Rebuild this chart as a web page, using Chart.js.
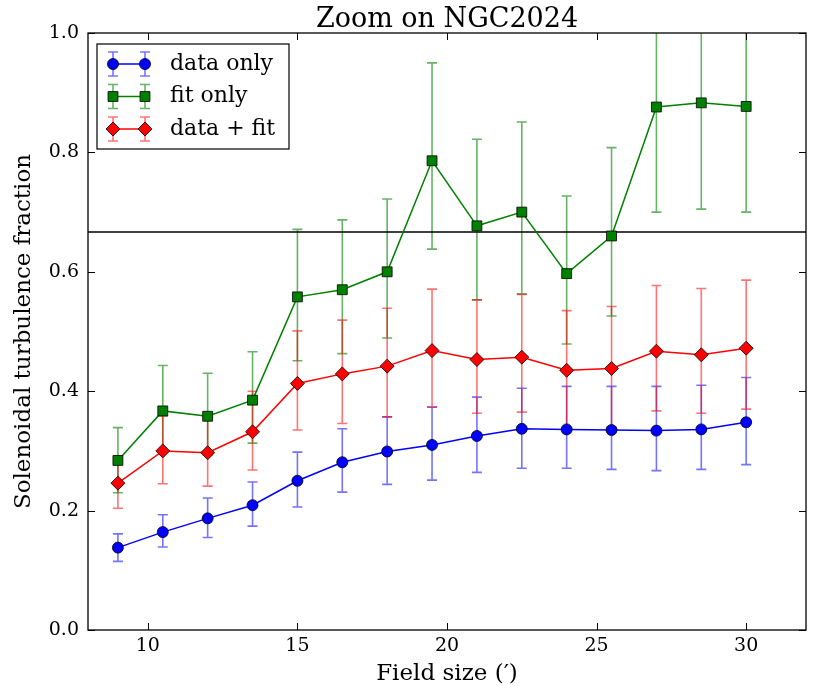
<!DOCTYPE html>
<html lang="en">
<head>
<meta charset="UTF-8">
<title>Zoom on NGC2024</title>
<script src="https://cdn.jsdelivr.net/npm/chart.js"></script>
<style>
  html, body { margin: 0; padding: 0; background: #fff; }
  #wrap { width: 830px; height: 686px; }
</style>
</head>
<body>
<div id="wrap"><canvas id="chart" width="830" height="686"></canvas></div>
<script>
// field sizes (arcmin)
const fieldSize = [9, 10.5, 12, 13.5, 15, 16.5, 18, 19.5, 21, 22.5, 24, 25.5, 27, 28.5, 30];

// data only
const dataOnly     = [0.138, 0.164, 0.187, 0.209, 0.250, 0.281, 0.299, 0.310, 0.325, 0.337, 0.336, 0.335, 0.334, 0.336, 0.348];
const dataOnlyLow  = [0.115, 0.139, 0.155, 0.174, 0.206, 0.231, 0.244, 0.251, 0.264, 0.271, 0.271, 0.269, 0.267, 0.269, 0.277];
const dataOnlyHigh = [0.161, 0.193, 0.221, 0.248, 0.298, 0.337, 0.357, 0.373, 0.390, 0.405, 0.408, 0.408, 0.408, 0.410, 0.423];

// fit only
const fitOnly     = [0.284, 0.367, 0.358, 0.385, 0.558, 0.570, 0.600, 0.786, 0.677, 0.700, 0.597, 0.660, 0.876, 0.883, 0.877];
const fitOnlyLow  = [0.230, 0.300, 0.293, 0.313, 0.451, 0.463, 0.489, 0.638, 0.553, 0.563, 0.479, 0.526, 0.700, 0.705, 0.700];
const fitOnlyHigh = [0.339, 0.443, 0.430, 0.466, 0.671, 0.687, 0.722, 0.950, 0.822, 0.851, 0.727, 0.808, 1.050, 1.060, 1.050];

// data + fit
const dataFit     = [0.246, 0.300, 0.297, 0.332, 0.413, 0.429, 0.442, 0.468, 0.453, 0.457, 0.435, 0.438, 0.467, 0.461, 0.472];
const dataFitLow  = [0.204, 0.245, 0.241, 0.268, 0.335, 0.346, 0.357, 0.374, 0.363, 0.365, 0.338, 0.340, 0.367, 0.363, 0.370];
const dataFitHigh = [0.290, 0.358, 0.355, 0.400, 0.501, 0.519, 0.539, 0.571, 0.553, 0.562, 0.535, 0.542, 0.577, 0.572, 0.586];

const refLevel = 2 / 3;
const xTicks = [10, 15, 20, 25, 30];
const yTicks = [0, 0.2, 0.4, 0.6, 0.8, 1.0];
const xRange = [8, 32];
const yRange = [0, 1];

const SERIF = '"DejaVu Serif", "Liberation Serif", serif';

const series = [
    { label: 'data only',  y: dataOnly, lo: dataOnlyLow, hi: dataOnlyHigh, color: '#0000ff', err: 'rgba(0,0,255,0.55)', marker: 'circle',  radius: 5.5 },
    { label: 'fit only',   y: fitOnly,  lo: fitOnlyLow,  hi: fitOnlyHigh,  color: '#008000', err: 'rgba(0,128,0,0.6)',  marker: 'rect',    radius: 7 },
    { label: 'data + fit', y: dataFit,  lo: dataFitLow,  hi: dataFitHigh,  color: '#ff0000', err: 'rgba(255,0,0,0.55)', marker: 'rectRot', radius: 7 }
];

function toPoints(ys) {
    return fieldSize.map((x, i) => ({ x: x, y: ys[i] }));
}

// error bars go under the lines and markers
const errorBars = {
    id: 'errorBars',
    beforeDatasetsDraw(chart) {
        const { ctx, chartArea, scales } = chart;
        ctx.save();
        ctx.beginPath();
        ctx.rect(chartArea.left, chartArea.top, chartArea.right - chartArea.left, chartArea.bottom - chartArea.top);
        ctx.clip();
        series.forEach(s => {
            ctx.strokeStyle = s.err;
            ctx.lineWidth = 1.6;
            fieldSize.forEach((x, i) => {
                const px = scales.x.getPixelForValue(x);
                const top = scales.y.getPixelForValue(s.hi[i]);
                const bot = scales.y.getPixelForValue(s.lo[i]);
                ctx.beginPath();
                ctx.moveTo(px, top); ctx.lineTo(px, bot);
                ctx.moveTo(px - 5, top); ctx.lineTo(px + 5, top);
                ctx.moveTo(px - 5, bot); ctx.lineTo(px + 5, bot);
                ctx.stroke();
            });
        });
        ctx.restore();
    }
};

function drawMarker(ctx, type, x, y, r, fill) {
    ctx.save();
    ctx.fillStyle = fill;
    ctx.strokeStyle = '#000';
    ctx.lineWidth = 0.8;
    ctx.beginPath();
    if (type === 'circle') {
        ctx.arc(x, y, r, 0, Math.PI * 2);
    } else if (type === 'rect') {
        const h = r * Math.SQRT1_2;
        ctx.rect(x - h, y - h, 2 * h, 2 * h);
    } else {
        ctx.moveTo(x, y - r); ctx.lineTo(x + r, y); ctx.lineTo(x, y + r); ctx.lineTo(x - r, y); ctx.closePath();
    }
    ctx.fill();
    ctx.stroke();
    ctx.restore();
}

// frame, inward ticks, title and the legend box
const decorations = {
    id: 'decorations',
    afterDraw(chart) {
        const { ctx, chartArea: a, scales } = chart;
        ctx.save();
        ctx.strokeStyle = '#000';
        ctx.lineWidth = 1.3;
        ctx.strokeRect(a.left, a.top, a.right - a.left, a.bottom - a.top);

        ctx.lineWidth = 1;
        ctx.beginPath();
        xTicks.forEach(v => {
            const px = Math.round(scales.x.getPixelForValue(v)) + 0.5;
            ctx.moveTo(px, a.bottom); ctx.lineTo(px, a.bottom - 7);
            ctx.moveTo(px, a.top); ctx.lineTo(px, a.top + 7);
        });
        yTicks.forEach(v => {
            const py = Math.round(scales.y.getPixelForValue(v)) + 0.5;
            ctx.moveTo(a.left, py); ctx.lineTo(a.left + 7, py);
            ctx.moveTo(a.right, py); ctx.lineTo(a.right - 7, py);
        });
        ctx.stroke();

        ctx.fillStyle = '#000';
        ctx.font = '27px ' + SERIF;
        ctx.textAlign = 'center';
        ctx.textBaseline = 'alphabetic';
        ctx.fillText('Zoom on NGC2024', (a.left + a.right) / 2, 27);

        // legend
        const lx = a.left + 9, ly = a.top + 11, lw = 192, lh = 105;
        ctx.fillStyle = '#fff';
        ctx.fillRect(lx, ly, lw, lh);
        ctx.lineWidth = 1.2;
        ctx.strokeRect(lx, ly, lw, lh);
        ctx.font = '22px ' + SERIF;
        ctx.textAlign = 'left';
        ctx.textBaseline = 'middle';
        series.forEach((s, i) => {
            const y = ly + 20 + i * 32.5;
            const x1 = lx + 16, x2 = lx + 48;
            ctx.strokeStyle = s.err;
            ctx.lineWidth = 1.6;
            ctx.beginPath();
            [x1, x2].forEach(x => {
                ctx.moveTo(x, y - 12); ctx.lineTo(x, y + 12);
                ctx.moveTo(x - 5, y - 12); ctx.lineTo(x + 5, y - 12);
                ctx.moveTo(x - 5, y + 12); ctx.lineTo(x + 5, y + 12);
            });
            ctx.stroke();
            ctx.strokeStyle = s.color;
            ctx.lineWidth = 1.5;
            ctx.beginPath();
            ctx.moveTo(x1, y); ctx.lineTo(x2, y);
            ctx.stroke();
            drawMarker(ctx, s.marker, x1, y, s.radius, s.color);
            drawMarker(ctx, s.marker, x2, y, s.radius, s.color);
            ctx.fillStyle = '#000';
            ctx.fillText(s.label, lx + 73, y);
        });
        ctx.restore();
    }
};

// red on top, then green, blue; the 2/3 reference line at the bottom
const datasets = series.slice().reverse().map(s => ({
    label: s.label,
    data: toPoints(s.y),
    borderColor: s.color,
    backgroundColor: s.color,
    borderWidth: 1.5,
    pointStyle: s.marker,
    pointRadius: s.radius,
    pointBorderColor: '#000',
    pointBorderWidth: 0.8,
    tension: 0
}));
datasets.push({
    label: 'ref',
    data: [{ x: xRange[0], y: refLevel }, { x: xRange[1], y: refLevel }],
    borderColor: '#000',
    borderWidth: 1.3,
    pointRadius: 0
});

new Chart(document.getElementById('chart'), {
    type: 'line',
    data: { datasets: datasets },
    options: {
        responsive: false,
        animation: false,
        layout: { padding: { top: 33, right: 24, left: 0, bottom: 0 } },
        plugins: {
            legend: { display: false },
            tooltip: { enabled: false }
        },
        scales: {
            x: {
                type: 'linear',
                min: xRange[0],
                max: xRange[1],
                afterBuildTicks: s => { s.ticks = xTicks.map(v => ({ value: v })); },
                afterFit: s => { s.height = 56; },
                grid: { display: false, drawTicks: false },
                border: { display: false },
                ticks: { color: '#000', padding: 5, font: { family: SERIF, size: 19 }, maxRotation: 0 },
                title: { display: true, text: 'Field size (′)', color: '#000', font: { family: SERIF, size: 23, lineHeight: 1 }, padding: { top: 0, bottom: 0 } }
            },
            y: {
                type: 'linear',
                min: yRange[0],
                max: yRange[1],
                afterBuildTicks: s => { s.ticks = yTicks.map(v => ({ value: v })); },
                afterFit: s => { s.width = 88; },
                grid: { display: false, drawTicks: false },
                border: { display: false },
                ticks: { color: '#000', padding: 9, font: { family: SERIF, size: 19 }, callback: v => v.toFixed(1) },
                title: { display: true, text: 'Solenoidal turbulence fraction', color: '#000', font: { family: SERIF, size: 23, lineHeight: 1 }, padding: { top: 13, bottom: 0 } }
            }
        }
    },
    plugins: [errorBars, decorations]
});
</script>
</body>
</html>
